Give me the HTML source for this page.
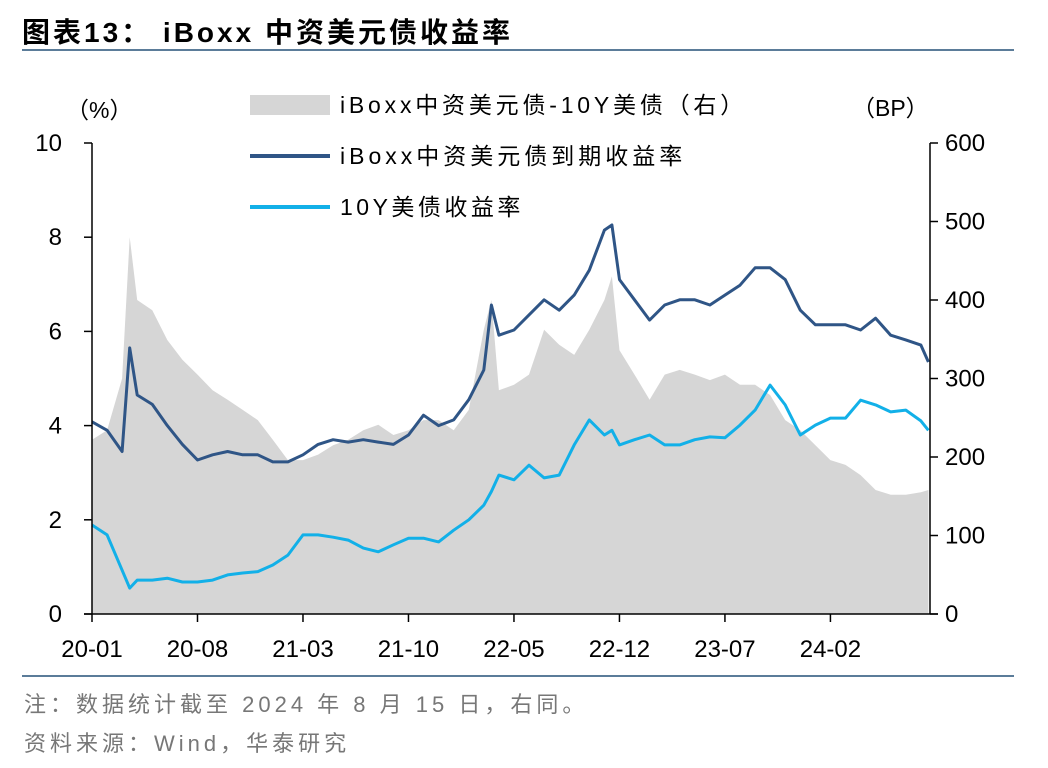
<!DOCTYPE html>
<html><head><meta charset="utf-8"><style>
body{margin:0;background:#fff;width:1048px;height:768px;overflow:hidden;font-family:"Liberation Sans","Noto Sans CJK SC",sans-serif;}
.title{position:absolute;left:22px;top:11px;font-size:28px;font-weight:bold;color:#000;letter-spacing:3px;}
.hr{position:absolute;left:22px;width:992px;height:2px;background:#5b7c99;}
.note{position:absolute;left:24px;font-size:22px;color:#777;letter-spacing:4px;}
</style></head><body>
<div class="title">图表13： iBoxx 中资美元债收益率</div>
<div class="hr" style="top:49px"></div>
<svg id="chart" width="1048" height="768" style="position:absolute;left:0;top:0"></svg>
<div class="hr" style="top:675px"></div>
<div class="note" style="top:687px">注：数据统计截至 2024 年 8 月 15 日，右同。</div>
<div class="note" style="top:726px">资料来源：Wind，华泰研究</div>
<script>
const months = [0,1,2,2.5,3,4,5,6,7,8,9,10,11,12,13,14,15,16,17,18,19,20,21,22,23,24,25,26,26.5,27,28,29,30,31,32,33,34,34.5,35,36,37,38,39,40,41,42,43,44,45,46,47,48,49,50,51,52,53,54,55,55.5];
const iboxx = [4.08,3.9,3.45,5.65,4.65,4.45,4.0,3.6,3.27,3.38,3.45,3.38,3.38,3.23,3.23,3.38,3.6,3.7,3.65,3.7,3.65,3.6,3.8,4.22,4.0,4.12,4.55,5.18,6.56,5.92,6.03,6.35,6.67,6.45,6.77,7.3,8.15,8.26,7.1,6.67,6.24,6.56,6.67,6.67,6.56,6.77,6.98,7.35,7.35,7.1,6.45,6.14,6.14,6.14,6.03,6.28,5.92,5.82,5.71,5.35];
const ust10 = [1.89,1.68,0.93,0.55,0.72,0.72,0.76,0.68,0.68,0.72,0.83,0.87,0.9,1.04,1.25,1.68,1.68,1.63,1.57,1.4,1.32,1.47,1.61,1.61,1.53,1.78,2.0,2.31,2.6,2.95,2.85,3.16,2.89,2.95,3.59,4.12,3.8,3.9,3.59,3.7,3.8,3.59,3.59,3.7,3.76,3.74,4.01,4.33,4.86,4.44,3.8,4.01,4.16,4.16,4.54,4.44,4.29,4.33,4.1,3.9];
const spreadBP = [222,234,300,480,400,387,349,324,305,285,273,260,247,222,196,196,203,215,222,234,241,228,234,247,247,234,260,362,400,285,292,305,362,343,330,362,400,430,336,305,273,305,311,305,298,305,292,292,279,247,234,215,196,190,177,158,152,152,155,158];
const leftTicks = [0,2,4,6,8,10];
const rightTicks = [0,100,200,300,400,500,600];
const xTickMonths = [0,7,14,21,28,35,42,49];
const xTickLabels = ["20-01","20-08","21-03","21-10","22-05","22-12","23-07","24-02"];

const X0=92,X1=930,Y0=614,Y1=143;
const xs = m => X0 + m*15.07;
const yL = v => Y0 - (v/10)*(Y0-Y1);
const yR = v => Y0 - (v/600)*(Y0-Y1);
const svg = document.getElementById('chart');
const NS='http://www.w3.org/2000/svg';
function mk(tag, attrs, text){const e=document.createElementNS(NS,tag);for(const k in attrs)e.setAttribute(k,attrs[k]);if(text!==undefined)e.textContent=text;svg.appendChild(e);return e;}

let d='M'+xs(months[0])+','+Y0;
months.forEach((m,i)=>{d+=' L'+xs(m).toFixed(1)+','+yR(spreadBP[i]).toFixed(1);});
d+=' L'+xs(months[months.length-1])+','+Y0+' Z';
let a=mk('path',{d:d,fill:'#d6d6d6'});



function line(vals,color,name){
  let p='';months.forEach((m,i)=>{p+=(i?' L':'M')+xs(m).toFixed(1)+','+yL(vals[i]).toFixed(1);});
  const e=mk('path',{d:p,fill:'none',stroke:color,'stroke-width':3,'stroke-linejoin':'round'});
  
  
}
line(ust10,'#12b0e8','ust10-line');
line(iboxx,'#2f5586','iboxx-line');

let ax=mk('line',{x1:X0,y1:Y1,x2:X0,y2:Y0,stroke:'#000','stroke-width':1.5});


ax=mk('line',{x1:X1,y1:Y1,x2:X1,y2:Y0,stroke:'#000','stroke-width':1.5});


ax=mk('line',{x1:X0-8,y1:Y0,x2:X1+8,y2:Y0,stroke:'#000','stroke-width':1.5});


leftTicks.forEach(v=>{
  mk('line',{x1:X0-8,y1:yL(v),x2:X0,y2:yL(v),stroke:'#000','stroke-width':1.5});
  const t=mk('text',{x:62,y:yL(v)+8,'text-anchor':'end','font-size':24,fill:'#000'},v);
  
  
});
rightTicks.forEach(v=>{
  mk('line',{x1:X1,y1:yR(v),x2:X1+8,y2:yR(v),stroke:'#000','stroke-width':1.5});
  const t=mk('text',{x:945,y:yR(v)+8,'font-size':24,fill:'#000'},v);
  
  
});
xTickMonths.forEach((m,i)=>{
  mk('line',{x1:xs(m),y1:Y0,x2:xs(m),y2:Y0+8,stroke:'#000','stroke-width':1.5});
  const t=mk('text',{x:xs(m),y:657,'text-anchor':'middle','font-size':24,fill:'#000'},xTickLabels[i]);
  
  
});
let u=mk('text',{x:66,y:118,'font-size':23,fill:'#000'},'（%）');


u=mk('text',{x:852,y:116,'font-size':23,fill:'#000'},'（BP）');



let l=mk('rect',{x:250,y:95,width:80,height:20,fill:'#d6d6d6'});


l=mk('text',{x:340,y:113,'font-size':23,fill:'#000','letter-spacing':3.8},'iBoxx中资美元债-10Y美债（右）');


l=mk('line',{x1:250,y1:156,x2:330,y2:156,stroke:'#2f5586','stroke-width':4});


l=mk('text',{x:340,y:164,'font-size':23,fill:'#000','letter-spacing':4},'iBoxx中资美元债到期收益率');


l=mk('line',{x1:250,y1:207,x2:330,y2:207,stroke:'#12b0e8','stroke-width':4});


l=mk('text',{x:340,y:215,'font-size':23,fill:'#000','letter-spacing':3.5},'10Y美债收益率');


</script>
</body></html>
